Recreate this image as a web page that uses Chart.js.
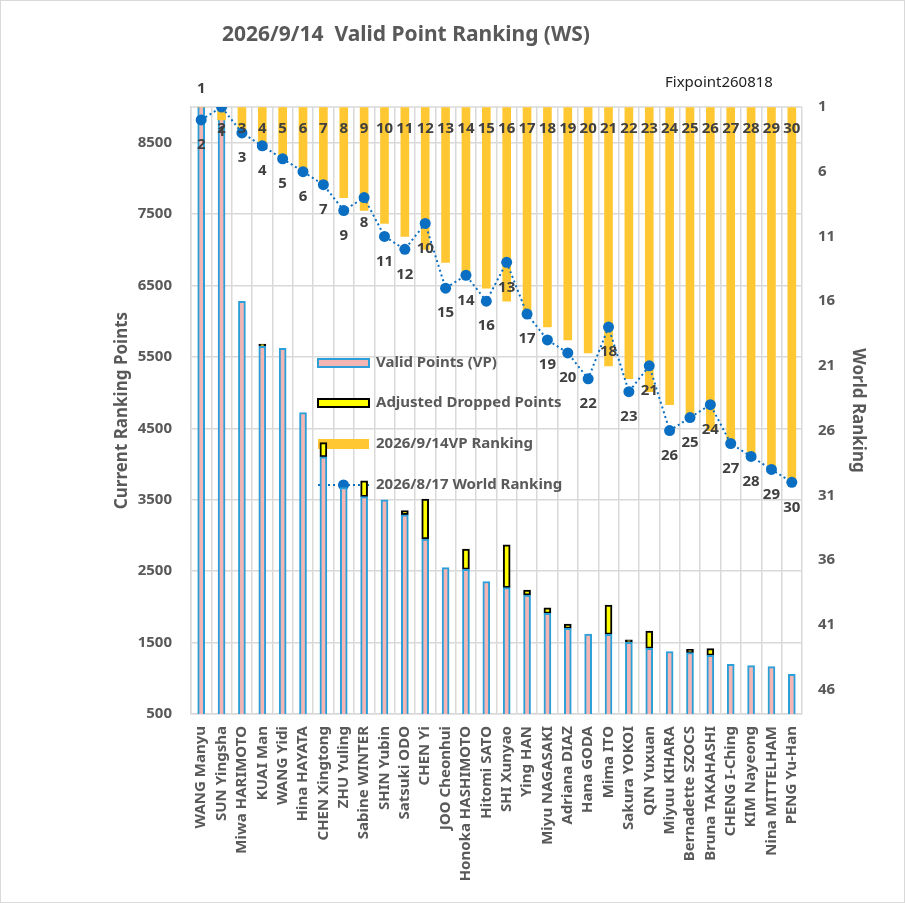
<!DOCTYPE html>
<html><head><meta charset="utf-8">
<script src="https://cdn.jsdelivr.net/npm/chart.js@4.4.0/dist/chart.umd.min.js"></script>
<style>html,body{margin:0;padding:0;background:#fff;overflow:hidden}#wrap{width:905px;height:903px}</style>
</head><body><div id="wrap"><canvas id="c" width="905" height="903"></canvas></div>
<script>
const players = ["WANG Manyu","SUN Yingsha","Miwa HARIMOTO","KUAI Man","WANG Yidi","Hina HAYATA","CHEN Xingtong","ZHU Yuling","Sabine WINTER","SHIN Yubin","Satsuki ODO","CHEN Yi","JOO Cheonhui","Honoka HASHIMOTO","Hitomi SATO","SHI Xunyao","Ying HAN","Miyu NAGASAKI","Adriana DIAZ","Hana GODA","Mima ITO","Sakura YOKOI","QIN Yuxuan","Miyuu KIHARA","Bernadette SZOCS","Bruna TAKAHASHI","CHENG I-Ching","KIM Nayeong","Nina MITTELHAM","PENG Yu-Han"];
const validPoints = [10200,9600,6280,5650,5620,4720,4100,3670,3545,3500,3290,2950,2550,2525,2355,2270,2165,1910,1700,1620,1615,1505,1420,1375,1360,1320,1195,1178,1163,1055];
const droppedPoints = [0,0,0,30,0,0,200,0,220,0,60,560,0,285,0,600,70,75,60,0,410,35,240,0,45,95,0,0,0,0];
const vpRanking = [1,2,3,4,5,6,7,8,9,10,11,12,13,14,15,16,17,18,19,20,21,22,23,24,25,26,27,28,29,30];
const worldRanking = [2,1,3,4,5,6,7,9,8,11,12,10,15,14,16,13,17,19,20,22,18,23,21,26,25,24,27,28,29,30];
const pointTicks = [500,1500,2500,3500,4500,5500,6500,7500,8500];
const rankTicks = [1,6,11,16,21,26,31,36,41,46];
const seriesNames = ["Valid Points (VP)","Adjusted Dropped Points","2026/9/14VP Ranking","2026/8/17 World Ranking"];
const chartTitle = "2026/9/14  Valid Point Ranking (WS)";
const subTitle = "Fixpoint260818";
const leftAxisTitle = "Current Ranking Points";
const rightAxisTitle = "World Ranking";

const FONT = '"Noto Sans","Open Sans",sans-serif';
const GRID = '#d9d9d9', TXT = '#595959', LBL = '#404040';
const PINK = '#f4b6b4', BLUE = '#2a9fd8', YEL = '#ffff00', GOLD = '#ffc832', LINEC = '#0a6fc2';

const decor = {
  id: 'decor',
  beforeDraw(chart) {
    const c = chart.ctx; c.save(); c.fillStyle = '#fff'; c.fillRect(0, 0, chart.width, chart.height); c.restore();
  },
  beforeDatasetsDraw(chart) {
    const c = chart.ctx, a = chart.chartArea;
    c.save();
    c.strokeStyle = GRID; c.lineWidth = 1.5;
    c.beginPath(); c.moveTo(a.left, a.top); c.lineTo(a.right, a.top); c.stroke();
    // legend (inside plot, behind marks)
    const lx = 318, sw = 51, tx = 376, ys = [363, 403, 444, 485];
    const ds = chart.data.datasets;
    c.fillStyle = PINK; c.fillRect(lx, ys[0] - 4, sw, 8);
    c.strokeStyle = BLUE; c.lineWidth = 2; c.strokeRect(lx, ys[0] - 4, sw, 8);
    c.fillStyle = YEL; c.fillRect(lx, ys[1] - 4, sw, 8);
    c.strokeStyle = '#000'; c.lineWidth = 2; c.strokeRect(lx, ys[1] - 4, sw, 8);
    c.fillStyle = GOLD; c.fillRect(lx, ys[2] - 5, sw, 10);
    c.strokeStyle = LINEC; c.lineWidth = 2; c.setLineDash([2, 3]);
    c.beginPath(); c.moveTo(lx, ys[3]); c.lineTo(lx + sw, ys[3]); c.stroke(); c.setLineDash([]);
    c.fillStyle = LINEC; c.beginPath(); c.arc(lx + sw / 2, ys[3], 5.5, 0, Math.PI * 2); c.fill();
    c.font = 'bold 15px ' + FONT; c.fillStyle = TXT; c.textAlign = 'left'; c.textBaseline = 'middle';
    ds.forEach((d, i) => c.fillText(d.label, tx, ys[i]));
    c.restore();
  },
  afterDatasetsDraw(chart) {
    const c = chart.ctx, a = chart.chartArea;
    c.save();
    c.font = 'bold 15px ' + FONT; c.fillStyle = LBL; c.textAlign = 'center'; c.textBaseline = 'middle';
    const mBar = chart.getDatasetMeta(2);
    mBar.data.forEach((el, i) => {
      const v = chart.data.datasets[2].data[i];
      const y = (el.y - el.base) < 2 ? a.top - 18 : a.top + 22;
      c.fillText(String(v), el.x, y);
    });
    const mLine = chart.getDatasetMeta(3);
    mLine.data.forEach((el, i) => {
      c.fillText(String(chart.data.datasets[3].data[i]), el.x, el.y + 25);
    });
    c.restore();
  },
  afterDraw(chart) {
    const c = chart.ctx;
    c.save();
    c.fillStyle = TXT; c.font = 'bold 21px ' + FONT; c.textAlign = 'center'; c.textBaseline = 'middle';
    c.fillText(chartTitle, 406, 35);
    c.fillStyle = '#222'; c.font = '15px ' + FONT; c.textAlign = 'left';
    c.fillText(subTitle, 665, 83);
    c.strokeStyle = GRID; c.lineWidth = 1; c.strokeRect(0.5, 0.5, chart.width - 1, chart.height - 1);
    c.restore();
  }
};

new Chart(document.getElementById('c'), {
  data: {
    labels: players,
    datasets: [
      { type: 'bar', label: seriesNames[0], data: validPoints, yAxisID: 'y', stack: 'pts', order: 2, grouped: false,
        backgroundColor: PINK, borderColor: BLUE, borderWidth: 2, barThickness: 7, borderSkipped: false },
      { type: 'bar', label: seriesNames[1], data: droppedPoints, yAxisID: 'y', stack: 'pts', order: 3, grouped: false,
        backgroundColor: YEL, borderColor: '#000', borderWidth: 2, barThickness: 7, borderSkipped: false },
      { type: 'bar', label: seriesNames[2], data: vpRanking, yAxisID: 'y2', order: 1, grouped: false, base: 1,
        backgroundColor: GOLD, borderWidth: 0, barThickness: 8 },
      { type: 'line', label: seriesNames[3], data: worldRanking, yAxisID: 'y2', order: 0,
        borderColor: LINEC, borderWidth: 2, borderDash: [2, 3], pointRadius: 5.5, pointBackgroundColor: LINEC,
        pointBorderWidth: 0, tension: 0, fill: false }
    ]
  },
  options: {
    responsive: false, animation: false, devicePixelRatio: 1,
    layout: { padding: { left: 108, right: 33, top: 107, bottom: 0 } },
    plugins: { legend: { display: false }, tooltip: { enabled: false }, title: { display: false } },
    scales: {
      x: {
        offset: true,
        grid: { color: GRID, lineWidth: 1.5, drawTicks: false, offset: true },
        border: { color: GRID, width: 1.5 },
        ticks: { autoSkip: false, maxRotation: 90, minRotation: 90, padding: 12, color: TXT, font: { family: FONT, size: 15, weight: 'bold' } },
        afterFit(s) { s.height = 189; }
      },
      y: {
        position: 'left', stacked: true, min: 500, max: 9000,
        afterBuildTicks(s) { s.ticks = pointTicks.map(v => ({ value: v })); },
        grid: { color: GRID, lineWidth: 1.5, drawTicks: false },
        border: { color: GRID, width: 1.5 },
        ticks: { padding: 19, color: TXT, font: { family: FONT, size: 15, weight: 'bold' }, callback: v => String(v) },
        title: { display: true, text: leftAxisTitle, color: TXT, font: { family: FONT, size: 17, weight: 'bold' }, padding: { top: 4, bottom: 0 } },
        afterFit(s) { s.width = 83; }
      },
      y2: {
        position: 'right', reverse: true, min: 1, max: 47.9,
        afterBuildTicks(s) { s.ticks = rankTicks.map(v => ({ value: v })); },
        grid: { drawOnChartArea: false, drawTicks: false },
        border: { display: false },
        ticks: { padding: 16, color: TXT, font: { family: FONT, size: 15, weight: 'bold' }, callback: v => String(v) },
        title: { display: true, text: rightAxisTitle, color: TXT, font: { family: FONT, size: 17, weight: 'bold' }, padding: { top: 4, bottom: 0 } },
        afterFit(s) { s.width = 70; }
      }
    }
  },
  plugins: [decor]
});
</script>
</body></html>
